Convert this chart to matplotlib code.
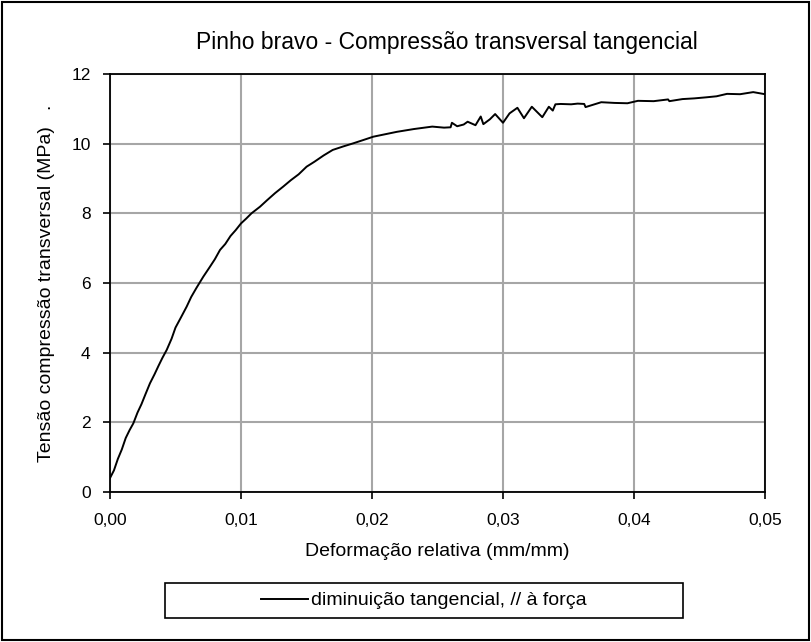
import matplotlib
matplotlib.use("Agg")
import matplotlib.pyplot as plt
from matplotlib.patches import Rectangle

plt.rcParams['font.family'] = ['Liberation Sans', 'DejaVu Sans']

# deformação relativa (mm/mm) vs tensão (MPa)
deformacao = [0.0, 0.0003, 0.0006, 0.0009, 0.0012, 0.0015, 0.00178, 0.0021, 0.0024,
              0.0027, 0.00305, 0.0034, 0.0037, 0.0040, 0.00433, 0.0047, 0.0050,
              0.0054, 0.00585, 0.0062, 0.0066, 0.00712, 0.0076, 0.0080, 0.0084,
              0.0088, 0.0092, 0.0096, 0.0100, 0.0104, 0.0108, 0.01145, 0.0120,
              0.0126, 0.01323, 0.0138, 0.0144, 0.01501, 0.0156, 0.0163, 0.0170,
              0.0178, 0.01857, 0.0193, 0.0201, 0.0210, 0.0219, 0.0232, 0.0246,
              0.0255, 0.0260, 0.0261, 0.0265, 0.0270, 0.0273, 0.0279, 0.0283,
              0.0285, 0.0290, 0.0294, 0.0300, 0.0305, 0.0311, 0.0316, 0.0322,
              0.0330, 0.0335, 0.0338, 0.0340, 0.0344, 0.0352, 0.0357, 0.0362,
              0.0363, 0.0375, 0.0385, 0.0395, 0.0403, 0.0415, 0.0426, 0.0427,
              0.0437, 0.0446, 0.0455, 0.0463, 0.0471, 0.0481, 0.0491, 0.0500]
tensao = [0.40, 0.62, 0.95, 1.22, 1.55, 1.78, 1.97, 2.28, 2.52,
          2.80, 3.12, 3.38, 3.62, 3.85, 4.08, 4.40, 4.72,
          5.00, 5.32, 5.60, 5.86, 6.18, 6.45, 6.68, 6.95,
          7.12, 7.35, 7.52, 7.71, 7.85, 8.00, 8.19, 8.38,
          8.58, 8.77, 8.95, 9.12, 9.34, 9.48, 9.66, 9.82,
          9.92, 10.01, 10.10, 10.20, 10.27, 10.34, 10.42, 10.49,
          10.46, 10.47, 10.60, 10.50, 10.55, 10.63, 10.53, 10.78,
          10.56, 10.70, 10.85, 10.60, 10.87, 11.03, 10.73, 11.06,
          10.76, 11.06, 10.95, 11.13, 11.14, 11.13, 11.15, 11.14,
          11.05, 11.19, 11.17, 11.16, 11.23, 11.22, 11.27, 11.22,
          11.28, 11.30, 11.33, 11.36, 11.43, 11.42, 11.48, 11.42]

fig = plt.figure(figsize=(8.11, 6.42), dpi=100)
ax = fig.add_axes([110/811, 1-492/642, 655/811, 418/642])

ax.plot(deformacao, tensao, color='black', lw=1.4,
        label='diminuição tangencial, // à força')

ax.set_xlim(0, 0.05)
ax.set_ylim(0, 12)
ax.set_xticks([0, 0.01, 0.02, 0.03, 0.04, 0.05])
ax.set_xticklabels(['0,00', '0,01', '0,02', '0,03', '0,04', '0,05'])
ax.set_yticks(range(0, 13, 2))
ax.tick_params(labelsize=12.5, direction='out', length=5, color='black', width=1.2)
ax.tick_params(axis='x', pad=10)
ax.tick_params(axis='y', pad=9)
ax.grid(True, color='#a6a6a6', lw=1.5)
ax.set_axisbelow(True)
for s in ax.spines.values():
    s.set_linewidth(1.3)

ax.set_xlabel('Deformação relativa (mm/mm)', fontsize=14, labelpad=11)
ax.set_ylabel('Tensão compressão transversal (MPa)   .', fontsize=14, labelpad=12)
fig.text(447/811, 1-42/642, 'Pinho bravo - Compressão transversal tangencial',
         fontsize=16.5, ha='center', va='center')

# caixa da legenda
fig.patches.append(Rectangle((165/811, 1-618/642), 518/811, 35/642,
                             transform=fig.transFigure, fill=False,
                             edgecolor='black', lw=1.2))
fig.legend(loc='center', bbox_to_anchor=(424/811, 1-600.5/642), frameon=False,
           fontsize=14, handlelength=2.4, handletextpad=0.2)

# moldura da figura
fig.patches.append(Rectangle((0.002, 0.003), 0.995, 0.994, transform=fig.transFigure,
                             fill=False, edgecolor='black', lw=1.5))

fig.savefig('out.png', dpi=100)
